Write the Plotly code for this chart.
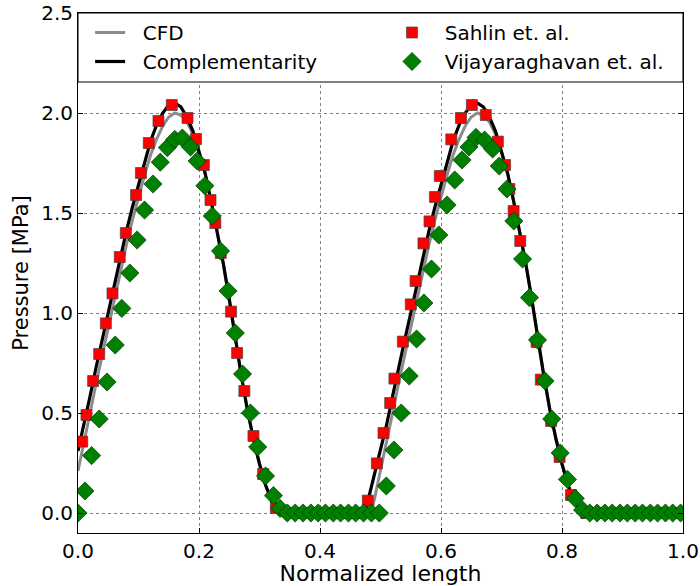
import plotly.graph_objects as go

# ---- data ----
comp_x = [0.00, 0.01, 0.02, 0.03, 0.04, 0.05, 0.06, 0.07, 0.08, 0.09, 0.10, 0.11, 0.12, 0.13, 0.14, 0.15, 0.16,
          0.17, 0.18, 0.19, 0.20, 0.21, 0.22, 0.23, 0.24, 0.25, 0.26, 0.27, 0.28, 0.29, 0.30, 0.31, 0.32, 0.33, 0.34,
          0.474, 0.48, 0.49,
          0.50, 0.51, 0.52, 0.53, 0.54, 0.55, 0.56, 0.57, 0.58, 0.59, 0.60, 0.61, 0.62, 0.63, 0.64, 0.65, 0.66,
          0.67, 0.68, 0.69, 0.70, 0.71, 0.72, 0.73, 0.74, 0.75, 0.76, 0.77, 0.78, 0.79, 0.80, 0.81, 0.82, 0.83, 0.84,
          1.00]
comp_y = [0.31, 0.44, 0.585, 0.73, 0.865, 1.00, 1.14, 1.28, 1.41, 1.53, 1.645, 1.76, 1.86, 1.94, 2.00, 2.04, 2.05,
          2.03, 1.98, 1.91, 1.81, 1.70, 1.56, 1.41, 1.25, 1.07, 0.87, 0.685, 0.515, 0.37, 0.245, 0.14, 0.06, 0.015, 0.0,
          0.0, 0.07, 0.19,
          0.31, 0.44, 0.585, 0.73, 0.865, 1.00, 1.14, 1.28, 1.41, 1.53, 1.645, 1.76, 1.86, 1.94, 2.00, 2.04, 2.05,
          2.03, 1.98, 1.91, 1.81, 1.70, 1.56, 1.41, 1.25, 1.07, 0.87, 0.685, 0.515, 0.37, 0.245, 0.14, 0.06, 0.015, 0.0,
          0.0]

cfd_x = [0.00, 0.01, 0.02, 0.03, 0.04, 0.05, 0.06, 0.07, 0.08, 0.09, 0.10, 0.11, 0.12, 0.13, 0.14, 0.15, 0.16,
         0.17, 0.18, 0.19, 0.20, 0.21, 0.22, 0.23, 0.24, 0.25, 0.26, 0.27, 0.28, 0.29, 0.30, 0.31, 0.32, 0.33, 0.34,
         0.484, 0.49,
         0.50, 0.51, 0.52, 0.53, 0.54, 0.55, 0.56, 0.57, 0.58, 0.59, 0.60, 0.61, 0.62, 0.63, 0.64, 0.65, 0.66,
         0.67, 0.68, 0.69, 0.70, 0.71, 0.72, 0.73, 0.74, 0.75, 0.76, 0.77, 0.78, 0.79, 0.80, 0.81, 0.82, 0.83, 0.84,
         1.00]
cfd_y = [0.21, 0.35, 0.50, 0.65, 0.79, 0.935, 1.075, 1.21, 1.34, 1.465, 1.58, 1.69, 1.79, 1.87, 1.935, 1.98, 2.00,
         1.99, 1.955, 1.895, 1.81, 1.70, 1.56, 1.41, 1.25, 1.07, 0.87, 0.685, 0.515, 0.37, 0.245, 0.14, 0.06, 0.015, 0.0,
         0.0, 0.07,
         0.21, 0.35, 0.50, 0.65, 0.79, 0.935, 1.075, 1.21, 1.34, 1.465, 1.58, 1.69, 1.79, 1.87, 1.935, 1.98, 2.00,
         1.99, 1.955, 1.895, 1.81, 1.70, 1.56, 1.41, 1.25, 1.07, 0.87, 0.685, 0.515, 0.37, 0.245, 0.14, 0.06, 0.015, 0.0,
         0.0]

sahlin_x = [0.007, 0.014, 0.025, 0.035, 0.046, 0.057, 0.069, 0.079, 0.096, 0.104,
            0.117, 0.133, 0.155, 0.181, 0.195, 0.208, 0.219, 0.227, 0.236, 0.253,
            0.263, 0.275, 0.290, 0.306, 0.327,
            0.360, 0.385, 0.410, 0.435, 0.460,
            0.479, 0.494, 0.505, 0.516, 0.523, 0.537, 0.550, 0.558, 0.571, 0.581,
            0.590, 0.598, 0.617, 0.633, 0.651, 0.674, 0.694, 0.706, 0.713, 0.720,
            0.731, 0.758, 0.765, 0.782, 0.796, 0.815,
            0.840, 0.865, 0.890, 0.915, 0.940, 0.965, 0.990]
sahlin_y = [0.357, 0.49, 0.66, 0.795, 0.948, 1.098, 1.28, 1.40, 1.59, 1.70,
            1.85, 1.96, 2.04, 1.975, 1.87, 1.74, 1.565, 1.45, 1.30, 1.007,
            0.80, 0.61, 0.385, 0.195, 0.025,
            0.0, 0.0, 0.0, 0.0, 0.0,
            0.062, 0.248, 0.40, 0.55, 0.672, 0.857, 1.043, 1.16, 1.348, 1.458,
            1.58, 1.685, 1.868, 1.975, 2.04, 1.99, 1.857, 1.74, 1.62, 1.51,
            1.36, 0.855, 0.667, 0.46, 0.28, 0.09,
            0.0, 0.0, 0.0, 0.0, 0.0, 0.0, 0.0]

vija_x = [0.0, 0.0115, 0.0225, 0.035, 0.048, 0.0615, 0.0725, 0.0857, 0.0977, 0.110,
          0.124, 0.136, 0.1477, 0.160, 0.1725, 0.186, 0.197, 0.2097, 0.222, 0.2356,
          0.248, 0.260, 0.272, 0.285, 0.297, 0.310, 0.323, 0.334,
          0.346, 0.359, 0.372, 0.385, 0.397, 0.409, 0.422, 0.434, 0.447, 0.459, 0.472, 0.485, 0.498,
          0.5096, 0.5222, 0.5343, 0.5475, 0.5596, 0.5717, 0.5843, 0.5964, 0.610, 0.6227,
          0.6348, 0.6463, 0.6578, 0.672, 0.6853, 0.6963, 0.709, 0.7204, 0.7348, 0.7463,
          0.7595, 0.772, 0.783, 0.797, 0.809, 0.822, 0.834,
          0.846, 0.858, 0.871, 0.883, 0.896, 0.908, 0.921, 0.933, 0.946, 0.958, 0.971, 0.983, 0.996]
vija_y = [0.0, 0.11, 0.287, 0.47, 0.655, 0.84, 1.023, 1.20, 1.365, 1.515,
          1.645, 1.754, 1.827, 1.868, 1.875, 1.83, 1.76, 1.636, 1.485, 1.31,
          1.11, 0.90, 0.695, 0.50, 0.33, 0.185, 0.087, 0.023,
          0.0, 0.0, 0.0, 0.0, 0.0, 0.0, 0.0, 0.0, 0.0, 0.0, 0.0, 0.0, 0.0,
          0.135, 0.315, 0.50, 0.685, 0.87, 1.05, 1.22, 1.39, 1.54, 1.665,
          1.765, 1.83, 1.878, 1.865, 1.82, 1.735, 1.62, 1.46, 1.27, 1.077,
          0.865, 0.66, 0.47, 0.30, 0.168, 0.073, 0.015,
          0.0, 0.0, 0.0, 0.0, 0.0, 0.0, 0.0, 0.0, 0.0, 0.0, 0.0, 0.0, 0.0]

x_ticks = [0.0, 0.2, 0.4, 0.6, 0.8, 1.0]
y_ticks = [0.0, 0.5, 1.0, 1.5, 2.0, 2.5]

FONT = "DejaVu Sans"
PAD = "\u00a0\u00a0"

fig = go.Figure()
fig.add_trace(go.Scatter(x=cfd_x, y=cfd_y, mode="lines", name=PAD + "CFD",
                         line=dict(color="#8c8c8c", width=3), legend="legend"))
fig.add_trace(go.Scatter(x=comp_x, y=comp_y, mode="lines", name=PAD + "Complementarity",
                         line=dict(color="black", width=3.2), legend="legend"))
fig.add_trace(go.Scatter(x=sahlin_x, y=sahlin_y, mode="markers", name=PAD + "Sahlin et. al.",
                         marker=dict(symbol="square", size=11, color="#ff0000",
                                     line=dict(color="#444444", width=0.7)), legend="legend2"))
fig.add_trace(go.Scatter(x=vija_x, y=vija_y, mode="markers", name=PAD + "Vijayaraghavan et. al.",
                         marker=dict(symbol="diamond", size=14, color="#008000",
                                     line=dict(color="#003300", width=0.7)), legend="legend2"))

axis_common = dict(
    showline=True, linecolor="black", linewidth=1, mirror="ticks",
    ticks="inside", ticklen=5, tickcolor="black", tickwidth=1,
    showgrid=True, gridcolor="#7f7f7f", griddash="dot", gridwidth=1,
    zeroline=False, tickformat=".1f", automargin=False,
    tickfont=dict(family=FONT, size=20, color="black"),
)

fig.update_xaxes(range=[0, 1], tickvals=x_ticks,
                 title=dict(text="Normalized length", font=dict(family=FONT, size=22, color="black"), standoff=6),
                 **axis_common)
fig.update_yaxes(range=[-0.1, 2.5], tickvals=y_ticks,
                 title=dict(text="Pressure [MPa]", font=dict(family=FONT, size=21, color="black"), standoff=6),
                 **axis_common)

# legend frame covering the top band of the axes
fig.add_shape(type="rect", xref="x", yref="y", x0=0, x1=1, y0=2.155, y1=2.5,
              fillcolor="white", line=dict(color="black", width=1), layer="above")

leg_font = dict(family=FONT, size=20, color="black")
fig.update_layout(
    width=700, height=586,
    margin=dict(l=78, r=17, t=13, b=53),
    paper_bgcolor="white", plot_bgcolor="white",
    font=dict(family=FONT, color="black"),
    legend=dict(x=0.0200, y=1.0, xanchor="left", yanchor="top", bgcolor="rgba(0,0,0,0)",
                borderwidth=0, font=leg_font, tracegroupgap=0),
    legend2=dict(x=0.519, y=1.0, xanchor="left", yanchor="top", bgcolor="rgba(0,0,0,0)",
                 borderwidth=0, font=leg_font, tracegroupgap=0),
)

fig.write_html("out.html")
